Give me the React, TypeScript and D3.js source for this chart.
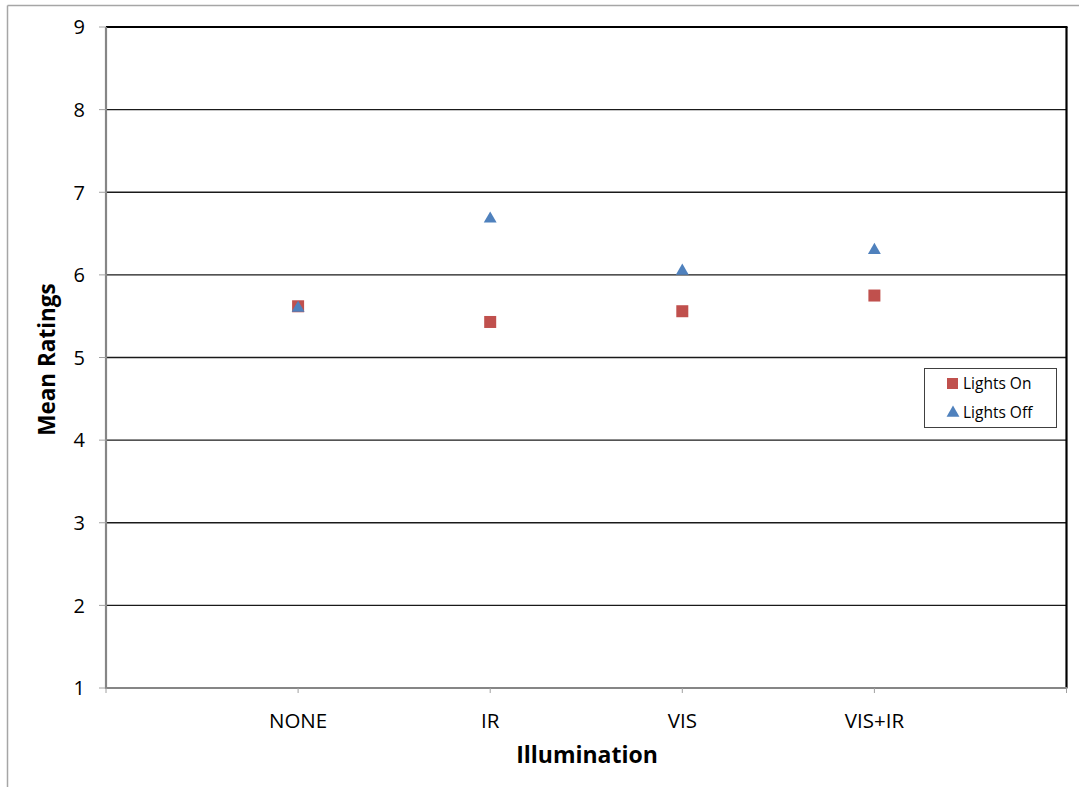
import React from "react";
import * as d3 from "d3";

const categories = ["NONE", "IR", "VIS", "VIS+IR"];
const lightsOn = [5.62, 5.43, 5.56, 5.75];
const lightsOff = [5.61, 6.69, 6.06, 6.31];
const yTicks = [1, 2, 3, 4, 5, 6, 7, 8, 9];
const xTicks = [0, 1, 2, 3, 4, 5];
const seriesNames = ["Lights On", "Lights Off"];

const W = 1079;
const H = 787;
const plot = { left: 106, right: 1066.5, top: 27, bottom: 688 };
const FONT = "'Open Sans', Carlito, Calibri, sans-serif";
const RED = "#C0504D";
const BLUE = "#4F81BD";

export default function App() {
  const x = d3.scaleLinear().domain([0, 5]).range([plot.left, plot.right]);
  const y = d3.scaleLinear().domain([1, 9]).range([plot.bottom, plot.top]);
  const tri = d3.symbol().type(d3.symbolTriangle).size(72)();

  return (
    <svg
      width={W}
      height={H}
      style={{ position: "absolute", left: 0, top: 0, background: "#fff" }}
      fontFamily={FONT}
    >
      {/* chart frame */}
      <line x1={7.5} x2={W + 10} y1={5.5} y2={5.5} stroke="#a6a6a6" strokeWidth={1.5} />
      <line x1={7.5} x2={7.5} y1={5.5} y2={H + 10} stroke="#a6a6a6" strokeWidth={1.5} />

      {/* horizontal gridlines */}
      {yTicks.slice(1, -1).map((t) => (
        <line key={t} x1={plot.left} x2={plot.right} y1={y(t)} y2={y(t)} stroke="#1a1a1a" strokeWidth={1.4} />
      ))}

      {/* plot area border: top and right */}
      <line x1={plot.left} x2={plot.right + 1} y1={y(9)} y2={y(9)} stroke="#000" strokeWidth={2.2} />
      <line x1={plot.right} x2={plot.right} y1={plot.top} y2={plot.bottom} stroke="#000" strokeWidth={2.2} />

      {/* y axis */}
      <line x1={plot.left} x2={plot.left} y1={plot.top} y2={plot.bottom + 1} stroke="#868686" strokeWidth={2.2} />
      {yTicks.map((t) => (
        <g key={t}>
          <line x1={plot.left - 7} x2={plot.left} y1={y(t)} y2={y(t)} stroke="#a0a0a0" strokeWidth={1} />
          <text x={85} y={y(t) + 7.3} textAnchor="end" fontSize={20} fill="#000">
            {t}
          </text>
        </g>
      ))}

      {/* x axis */}
      <line x1={plot.left - 1} x2={plot.right + 1} y1={plot.bottom} y2={plot.bottom} stroke="#868686" strokeWidth={2.2} />
      {xTicks.map((t) => (
        <line key={t} x1={x(t)} x2={x(t)} y1={plot.bottom} y2={plot.bottom + 5} stroke="#a0a0a0" strokeWidth={1} />
      ))}
      {categories.map((c, i) => (
        <text key={c} x={x(i + 1)} y={727.5} textAnchor="middle" fontSize={20.5} fill="#000">
          {c}
        </text>
      ))}

      {/* axis titles */}
      <text x={587} y={763} textAnchor="middle" fontSize={23} fontWeight="bold">
        Illumination
      </text>
      <text
        transform={`translate(55,${(plot.top + plot.bottom) / 2 + 2}) rotate(-90)`}
        textAnchor="middle"
        fontSize={22.5}
        fontWeight="bold"
      >
        Mean Ratings
      </text>

      {/* Lights On */}
      {lightsOn.map((v, i) => (
        <rect key={"on" + i} x={x(i + 1) - 6} y={y(v) - 6} width={12} height={12} fill={RED} />
      ))}
      {/* Lights Off */}
      {lightsOff.map((v, i) => (
        <path key={"off" + i} d={tri!} transform={`translate(${x(i + 1)},${y(v) + 1})`} fill={BLUE} />
      ))}

      {/* legend */}
      <rect x={924.5} y={368.5} width={132} height={59} fill="#fff" stroke="#404040" strokeWidth={1} />
      <rect x={947} y={378} width={11} height={11} fill={RED} />
      <path d={tri!} transform="translate(953,413)" fill={BLUE} />
      {seriesNames.map((n, i) => (
        <text key={n} x={963} y={389 + i * 28.5} fontSize={15.5} fill="#000">
          {n}
        </text>
      ))}
    </svg>
  );
}
